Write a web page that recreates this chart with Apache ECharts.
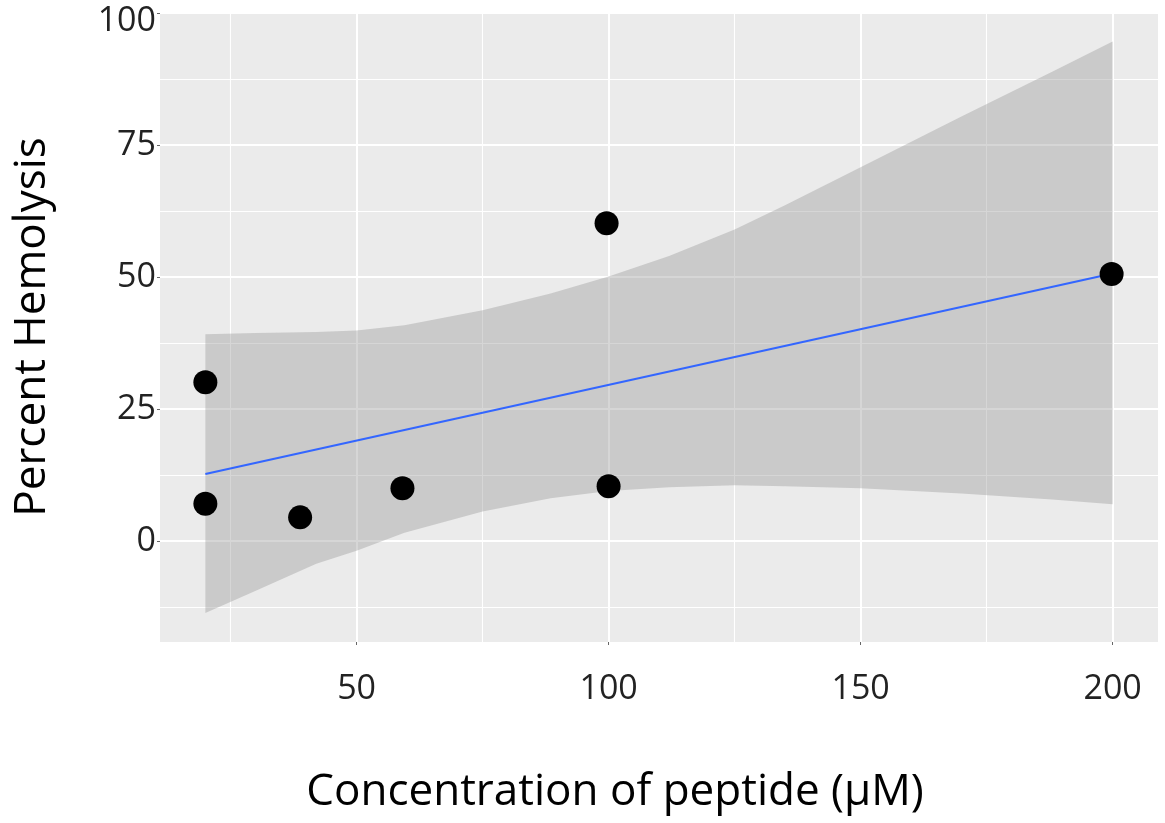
<!DOCTYPE html>
<html>
<head>
<meta charset="utf-8">
<title>Percent Hemolysis</title>
<script src="https://cdn.jsdelivr.net/npm/echarts@6/dist/echarts.min.js"></script>
<style>
  html, body { margin: 0; padding: 0; background: #fff; }
  #chart { width: 1165px; height: 823px; }
</style>
</head>
<body>
<div id="chart"></div>
<script>
// 测得的点
var pointX = [20, 20, 38.8, 59.1, 99.6, 100, 199.8];
var pointY = [30.1, 7.1, 4.5, 10.0, 60.2, 10.4, 50.6];

// 拟合直线
var lineX = [20, 200];
var lineY = [12.7, 50.7];

// 置信带
var bandX     = [20, 30, 42, 50, 59.5, 75, 88.5, 100, 112, 125, 135, 150, 170, 188, 200];
var bandLower = [-13.6, -9.4, -4.3, -1.8, 1.6, 5.6, 8.1, 9.5, 10.2, 10.6, 10.4, 10.0, 9.0, 7.9, 7.0];
var bandUpper = [39.2, 39.4, 39.6, 39.9, 40.9, 43.7, 46.9, 50.1, 54.0, 59.0, 63.6, 70.8, 80.4, 88.9, 94.6];

// 刻度
var xTicks = [50, 100, 150, 200];
var xMinor = [25, 75, 125, 175];
var yTicks = [0, 25, 50, 75, 100];
var yMinor = [-12.5, 12.5, 37.5, 62.5, 87.5];

var font = 'Open Sans';
var chart = echarts.init(document.getElementById('chart'));

var option = {
    animation: false,
    grid: {
        left: 160,
        right: 7,
        top: 12,
        bottom: 181,
        show: true,
        backgroundColor: '#EBEBEB',
        borderWidth: 0
    },
    xAxis: [{
        type: 'value',
        min: 11,
        max: 209,
        position: 'bottom',
        name: 'Concentration of peptide (μM)',
        nameLocation: 'middle',
        nameGap: 128,
        nameTextStyle: {
            fontFamily: font,
            fontSize: 44,
            color: '#000',
            padding: [0, 88, 0, 0]
        },
        axisLine: { show: false, onZero: false },
        axisTick: {
            show: true,
            length: 3,
            customValues: xTicks,
            lineStyle: { color: '#666', width: 1 }
        },
        axisLabel: {
            customValues: xTicks,
            margin: 30,
            fontFamily: font,
            fontSize: 34,
            color: '#222'
        },
        splitLine: { show: true, lineStyle: { color: '#fff', width: 2 } }
    }, {
        type: 'value',
        min: 11,
        max: 209,
        position: 'bottom',
        axisLine: { show: false, onZero: false },
        axisTick: { show: false, customValues: xMinor },
        axisLabel: { show: false },
        splitLine: { show: true, lineStyle: { color: '#fff', width: 1.1 } }
    }],
    yAxis: [{
        type: 'value',
        min: -19.1,
        max: 100.2,
        position: 'left',
        name: 'Percent Hemolysis',
        nameLocation: 'middle',
        nameGap: 106,
        nameTextStyle: {
            fontFamily: font,
            fontSize: 44,
            color: '#000'
        },
        axisLine: { show: false, onZero: false },
        axisTick: {
            show: true,
            length: 3,
            customValues: yTicks,
            lineStyle: { color: '#666', width: 1 }
        },
        axisLabel: {
            customValues: yTicks,
            margin: 4,
            fontFamily: font,
            fontSize: 34,
            color: '#222',
            // 顶部的 100 在原图里略低
            formatter: function (v) {
                return v === 100 ? '{hi|100}' : String(v);
            },
            rich: {
                hi: {
                    fontFamily: font,
                    fontSize: 34,
                    color: '#222',
                    padding: [16, 0, 0, 0]
                }
            }
        },
        splitLine: { show: true, lineStyle: { color: '#fff', width: 2 } }
    }, {
        type: 'value',
        min: -19.1,
        max: 100.2,
        position: 'left',
        axisLine: { show: false, onZero: false },
        axisTick: { show: false, customValues: yMinor },
        axisLabel: { show: false },
        splitLine: { show: true, lineStyle: { color: '#fff', width: 1.1 } }
    }],
    series: [{
        // 置信带
        type: 'custom',
        xAxisIndex: 0,
        yAxisIndex: 0,
        z: 2,
        data: [[bandX[0], bandLower[0]]],
        renderItem: function (params, api) {
            var pts = [];
            for (var i = 0; i < bandX.length; i++) {
                pts.push(api.coord([bandX[i], bandUpper[i]]));
            }
            for (var j = bandX.length - 1; j >= 0; j--) {
                pts.push(api.coord([bandX[j], bandLower[j]]));
            }
            return {
                type: 'polygon',
                shape: { points: pts },
                style: { fill: 'rgba(153,153,153,0.4)' }
            };
        }
    }, {
        // 拟合线
        type: 'line',
        xAxisIndex: 0,
        yAxisIndex: 0,
        z: 3,
        symbol: 'none',
        data: lineX.map(function (x, i) { return [x, lineY[i]]; }),
        lineStyle: { color: '#3366FF', width: 2 }
    }, {
        type: 'scatter',
        xAxisIndex: 0,
        yAxisIndex: 0,
        z: 4,
        symbolSize: 24,
        itemStyle: { color: '#000', opacity: 1 },
        data: pointX.map(function (x, i) { return [x, pointY[i]]; })
    }]
};
chart.setOption(option);
</script>
</body>
</html>
